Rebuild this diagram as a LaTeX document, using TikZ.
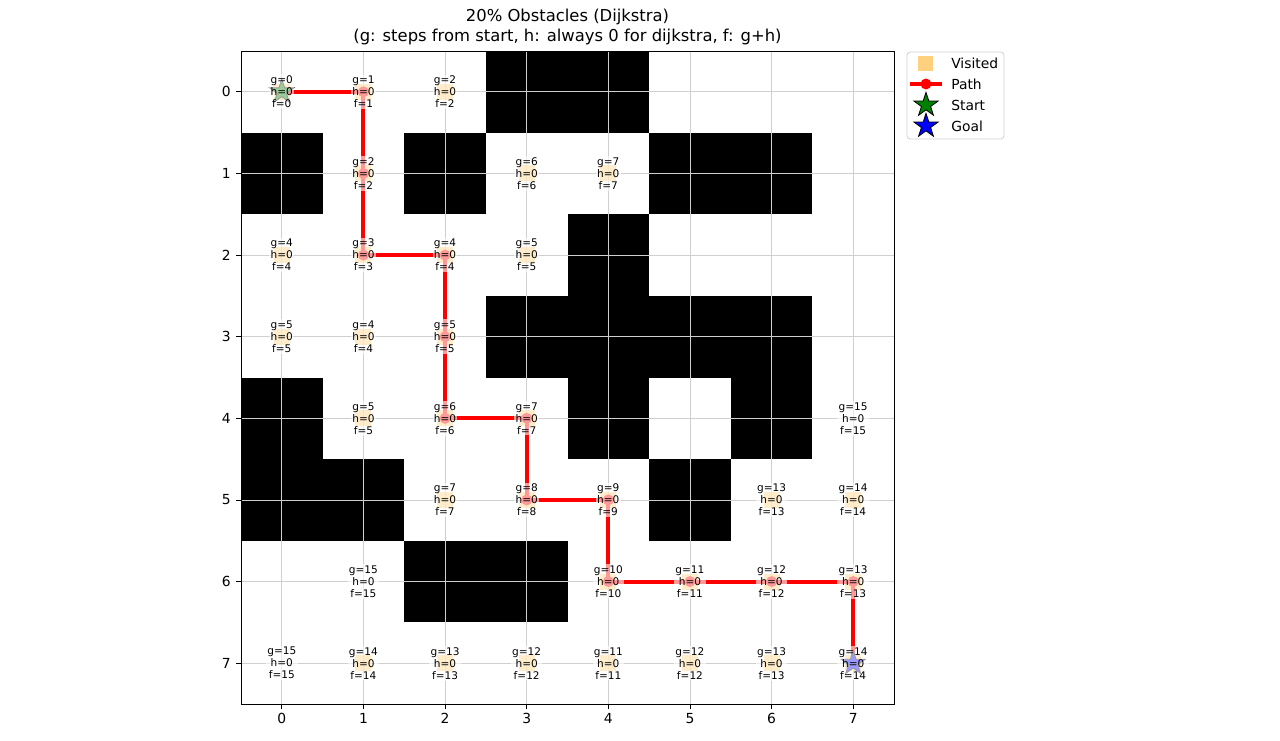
\documentclass[tikz,border=0pt]{standalone}
\usepackage{fontspec}
\setmainfont{DejaVu Sans}
\usetikzlibrary{shapes.geometric}
\definecolor{gridgray}{HTML}{CFCFCF}
\definecolor{legedge}{HTML}{D0D0D0}
\definecolor{mplgreen}{HTML}{008000}
\definecolor{mplorange}{HTML}{FFA500}
\begin{document}
\begin{tikzpicture}[x=0.75pt,y=-0.75pt,
  obstacle/.style={fill=black},
  gridline/.style={draw=gridgray,line width=0.6pt},
  visited/.style={fill=mplorange,fill opacity=0.5},
  pathline/.style={draw=red,line width=3pt},
  pathdot/.style={fill=red},
  starmark/.style={star,star points=5,star point ratio=2.618,minimum size=19pt,inner sep=0pt,draw=black,line width=0.6pt},
  startstar/.style={starmark,fill=mplgreen},
  goalstar/.style={starmark,fill=blue},
  cell/.style={align=center,font=\fontsize{7.9}{9}\selectfont,fill=white,fill opacity=0.6,text opacity=1,inner sep=1pt},
  tick/.style={font=\fontsize{10.4}{12}\selectfont},
  legtext/.style={anchor=west,font=\fontsize{10.4}{12}\selectfont,inner sep=0pt}]
\useasboundingbox (0,0) rectangle (1280,740);
\fill[white] (0,0) rectangle (1280,740);
% cell centres
\foreach \r in {0,...,7}{\foreach \c in {0,...,7}{
  \coordinate (c\r\c) at ({281.8+81.625*\c},{91.8+81.625*\r});}}
% obstacles
\foreach \r/\c in {0/3,0/4,1/0,1/2,1/5,1/6,2/4,3/3,3/4,3/5,3/6,4/0,4/4,4/6,5/0,5/1,5/5,6/2,6/3}{
  \fill[obstacle] ({241+81.625*\c},{51+81.625*\r}) rectangle ++(81.7,81.7);}
% grid
\foreach \i in {0,...,7}{
  \draw[gridline] ({281.8+81.625*\i},51) -- ({281.8+81.625*\i},704);
  \draw[gridline] (241,{91.8+81.625*\i}) -- (894,{91.8+81.625*\i});}
% visited markers
\foreach \r/\c in {0/0,0/1,0/2,1/1,1/3,1/4,2/0,2/1,2/2,2/3,3/0,3/1,3/2,4/1,4/2,4/3,5/2,5/3,5/4,5/6,5/7,6/4,6/5,6/6,6/7,7/1,7/2,7/3,7/4,7/5,7/6,7/7}{
  \fill[visited] (c\r\c) ++(-8,-8) rectangle ++(16,16);}
% path
\draw[pathline] (c00) -- (c01) -- (c11) -- (c21) -- (c22) -- (c32) -- (c42) -- (c43) -- (c53) -- (c54) -- (c64) -- (c65) -- (c66) -- (c67) -- (c77);
\foreach \p in {c00,c01,c11,c21,c22,c32,c42,c43,c53,c54,c64,c65,c66,c67,c77}{
  \fill[pathdot] (\p) circle (5.5);}
\node[startstar] (start) at (c00) {};
\node[goalstar] (goal) at (c77) {};
% cell labels
\foreach \r/\c/\g in {0/0/0,0/1/1,0/2/2,1/1/2,1/3/6,1/4/7,2/0/4,2/1/3,2/2/4,2/3/5,3/0/5,3/1/4,3/2/5,4/1/5,4/2/6,4/3/7,4/7/15,5/2/7,5/3/8,5/4/9,5/6/13,5/7/14,6/1/15,6/4/10,6/5/11,6/6/12,6/7/13,7/0/15,7/1/14,7/2/13,7/3/12,7/4/11,7/5/12,7/6/13,7/7/14}{
  \node[cell] (t\r\c) at (c\r\c) {g=\g\\h=0\\f=\g};}
% frame
\draw[black,line width=0.75pt] (241,51) rectangle (894,704);
% ticks
\foreach \i in {0,...,7}{
  \draw[black,line width=0.6pt] ({281.8+81.625*\i},704) -- ++(0,5);
  \node[tick,anchor=north,inner sep=0pt] (xl\i) at ({281.8+81.625*\i},713) {\i};
  \draw[black,line width=0.6pt] (241,{91.8+81.625*\i}) -- ++(-5,0);
  \node[tick,anchor=east,inner sep=0pt] (yl\i) at (231,{91.8+81.625*\i}) {\i};}
% title
\node[font=\fontsize{12.3}{15}\selectfont,inner sep=0pt] (title1) at (567.5,17) {20\% Obstacles (Dijkstra)};
\node[font=\fontsize{12.3}{15}\selectfont,inner sep=0pt] (title2) at (567.5,37) {(g: steps from start, h: always 0 for dijkstra, f: g+h)};
% legend
\draw[legedge,fill=white,rounded corners=2.5pt,line width=0.6pt] (907,52) rectangle (1004,139);
\fill[visited] (918,56) rectangle (933,71);
\draw[pathline] (910,84) -- (942,84);
\fill[pathdot] (926,84) circle (5.5);
\node[startstar] (legstart) at (926,105) {};
\node[goalstar] (leggoal) at (926,126) {};
\node[legtext] (lv) at (951,63) {Visited};
\node[legtext] (lp) at (951,84) {Path};
\node[legtext] (ls) at (951,105) {Start};
\node[legtext] (lg) at (951,126) {Goal};
\end{tikzpicture}
\end{document}
